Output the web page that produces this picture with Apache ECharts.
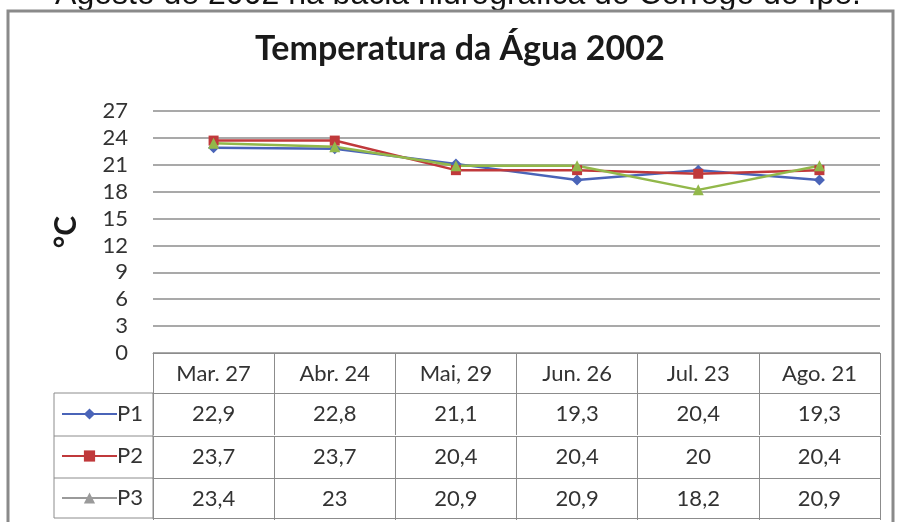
<!DOCTYPE html>
<html>
<head>
<meta charset="utf-8">
<style>
  html, body { margin: 0; padding: 0; background: #fff; }
  #chart { width: 897px; height: 522px; }
</style>
<script src="https://cdn.jsdelivr.net/npm/echarts@6/dist/echarts.min.js"></script>
</head>
<body>
<div id="chart"></div>
<script>
// data
const categories = ['Mar. 27', 'Abr. 24', 'Mai, 29', 'Jun. 26', 'Jul. 23', 'Ago. 21']
const p1 = [22.9, 22.8, 21.1, 19.3, 20.4, 19.3]
const p2 = [23.7, 23.7, 20.4, 20.4, 20, 20.4]
const p3 = [23.4, 23, 20.9, 20.9, 18.2, 20.9]
const yTicks = [0, 3, 6, 9, 12, 15, 18, 21, 24, 27]

const FONT = 'Lato'
const LINE_GRAY = '#8c8c8c'
const TEXT = '#333'

const fmt = (v) => String(v).replace('.', ',')

// one extra x axis per table row, its labels are the row's values
const rowAxis = (values, offset) => ({
  type: 'category',
  data: categories,
  position: 'bottom',
  offset: offset,
  axisLine: { show: true, lineStyle: { color: LINE_GRAY, width: 1 } },
  axisTick: { show: true, interval: 0, length: 42, lineStyle: { color: LINE_GRAY } },
  axisLabel: {
    show: values !== null,
    interval: 0,
    margin: 10,
    fontFamily: FONT,
    fontSize: 22,
    color: TEXT,
    formatter: (val, idx) => (values ? fmt(values[idx]) : '')
  },
  splitLine: { show: false }
})

const chart = echarts.init(document.getElementById('chart'))

chart.setOption({
  backgroundColor: '#fff',
  animation: false,
  title: {
    text: 'Temperatura da Água 2002',
    left: 250,
    top: 27,
    textStyle: { fontFamily: FONT, fontSize: 34, fontWeight: 'bold', color: '#1a1a1a' }
  },
  legend: {
    orient: 'vertical',
    left: 56,
    top: 398,
    itemWidth: 55,
    itemHeight: 14,
    itemGap: 20,
    textStyle: { fontFamily: FONT, fontSize: 22, color: TEXT, padding: [0, 0, 0, -5] },
    data: [
      'P1',
      'P2',
      { name: 'P3', itemStyle: { color: '#9a9a9a' }, lineStyle: { color: '#9a9a9a' } }
    ]
  },
  grid: { left: 153, right: 17, top: 111, bottom: 169 },
  xAxis: [
    {
      type: 'category',
      data: categories,
      position: 'bottom',
      axisLine: { show: true, lineStyle: { color: LINE_GRAY, width: 1 } },
      axisTick: { show: true, interval: 0, length: 40, lineStyle: { color: LINE_GRAY } },
      axisLabel: { interval: 0, margin: 10, fontFamily: FONT, fontSize: 22, color: TEXT }
    },
    rowAxis(p1, 40),
    rowAxis(p2, 83),
    rowAxis(p3, 125),
    Object.assign(rowAxis(null, 165), { axisTick: { show: false } })
  ],
  yAxis: {
    type: 'value',
    min: yTicks[0],
    max: yTicks[yTicks.length - 1],
    interval: 3,
    name: '°C',
    nameLocation: 'middle',
    nameGap: 72,
    nameRotate: 90,
    nameTextStyle: { fontFamily: FONT, fontSize: 30, fontWeight: 'bold', color: '#1a1a1a' },
    axisLine: { show: false },
    axisTick: { show: false },
    axisLabel: { margin: 25, fontFamily: FONT, fontSize: 22, color: TEXT, lineHeight: 22 },
    splitLine: { lineStyle: { color: LINE_GRAY, width: 1.5 } }
  },
  series: [
    {
      name: 'P1', type: 'line', data: p1,
      symbol: 'diamond', symbolSize: 11,
      color: '#4a64b8',
      lineStyle: { width: 2.5 }
    },
    {
      name: 'P2', type: 'line', data: p2,
      symbol: 'rect', symbolSize: 10,
      color: '#c0393b',
      lineStyle: { width: 2.5 }
    },
    {
      name: 'P3', type: 'line', data: p3,
      symbol: 'triangle', symbolSize: 11,
      color: '#92b84a',
      lineStyle: { width: 2.5 }
    }
  ],
  graphic: [
    {
      type: 'text',
      style: {
        x: 458,
        y: 11,
        align: 'center',
        verticalAlign: 'bottom',
        text: 'Agosto de 2002 na bacia hidrográfica do Córrego do Ipê.',
        font: '32px "Liberation Sans", Arial, sans-serif',
        fill: '#111'
      },
      silent: true
    },
    {
      type: 'rect',
      shape: { x: 8, y: 11, width: 885, height: 530 },
      style: { fill: 'none', stroke: '#8a8a8a', lineWidth: 3 },
      silent: true
    },
    {
      type: 'rect',
      shape: { x: 54, y: 393, width: 99, height: 125 },
      style: { fill: 'none', stroke: LINE_GRAY, lineWidth: 1 },
      silent: true
    },
    {
      type: 'line',
      shape: { x1: 54, y1: 436, x2: 153, y2: 436 },
      style: { stroke: LINE_GRAY, lineWidth: 1 },
      silent: true
    },
    {
      type: 'line',
      shape: { x1: 54, y1: 478, x2: 153, y2: 478 },
      style: { stroke: LINE_GRAY, lineWidth: 1 },
      silent: true
    }
  ]
})
</script>
</body>
</html>
